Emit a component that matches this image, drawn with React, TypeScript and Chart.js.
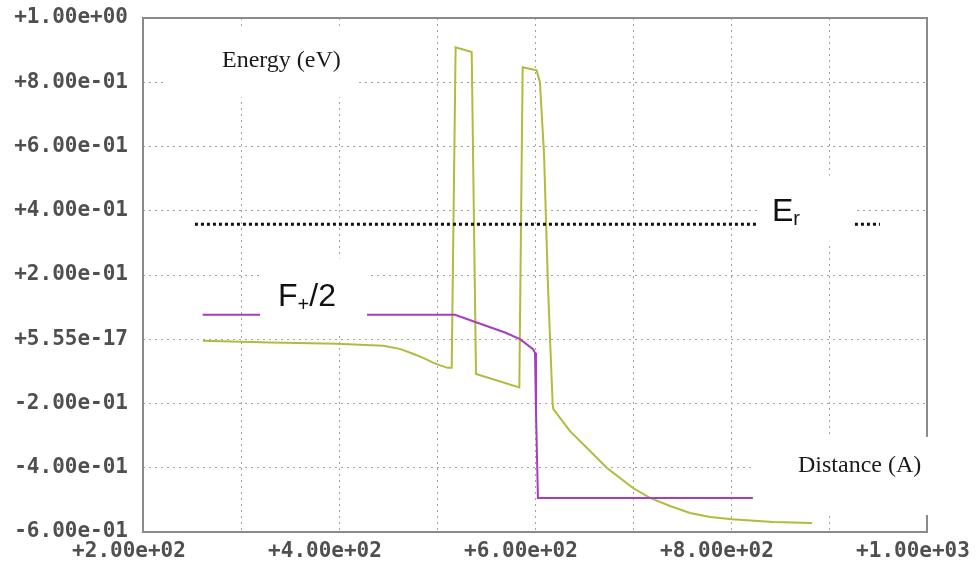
import React, { useEffect, useRef } from 'react';
import { Chart, registerables } from 'chart.js';

Chart.register(...registerables);

// Axis ticks
const xTickValues = [200, 300, 400, 500, 600, 700, 800, 900, 1000];
const xTickLabels = ['+2.00e+02', '', '+4.00e+02', '', '+6.00e+02', '', '+8.00e+02', '', '+1.00e+03'];
const yTickValues = [-0.6, -0.4, -0.2, 0, 0.2, 0.4, 0.6, 0.8, 1.0];
const yTickLabels = ['-6.00e-01', '-4.00e-01', '-2.00e-01', '+5.55e-17', '+2.00e-01', '+4.00e-01', '+6.00e-01', '+8.00e-01', '+1.00e+00'];

// Energy band (yellow)
const energyX = [261, 330, 398, 445, 462, 475.5, 486, 496, 504, 511, 515, 519, 535.4, 539.8, 584, 587.4, 601.7, 605, 609.2, 613.3, 618, 618.6, 635.7, 656.1, 673.5, 700, 717.3, 737.8, 758.2, 778.6, 801, 842.9, 882.7];
const energyY = [-0.005, -0.01, -0.014, -0.02, -0.03, -0.045, -0.058, -0.073, -0.082, -0.089, -0.089, 0.909, 0.894, -0.108, -0.15, 0.847, 0.837, 0.8, 0.578, 0.16, -0.2, -0.217, -0.286, -0.348, -0.401, -0.463, -0.494, -0.519, -0.541, -0.553, -0.56, -0.569, -0.572];

// F+/2 (purple)
const fHalfX = [261, 518.4, 540.5, 569.4, 584.7, 598, 600, 601, 603, 822.4];
const fHalfY = [0.076, 0.076, 0.052, 0.021, 0.0005, -0.031, -0.042, -0.223, -0.494, -0.494];

// Er (black dotted)
const erX = [253, 952];
const erY = [0.358, 0.358];

const toPts = (xs: number[], ys: number[]) => xs.map((x, i) => ({ x, y: ys[i] }));

type Part = { text: string; size: number; dy: number };
type Note = {
  box: [number, number, number, number]; // x0, x1, yTop, yBottom in data units
  x: number;
  y: number; // baseline in data units
  family: string;
  color: string;
  parts: Part[];
};

const SANS = '"Liberation Sans", Arial, sans-serif';
const SERIF = '"Liberation Serif", "Times New Roman", serif';

const notes: Note[] = [
  {
    box: [222.4, 416.3, 0.962, 0.753],
    x: 280.6, y: 0.849, family: SERIF, color: '#1a1a1a',
    parts: [{ text: 'Energy (eV)', size: 24, dy: 0 }],
  },
  {
    box: [826.5, 925.5, 0.51, 0.304],
    x: 841.8, y: 0.369, family: SANS, color: '#111',
    parts: [{ text: 'E', size: 32, dy: 0 }, { text: 'r', size: 20, dy: 4 }],
  },
  {
    box: [319.4, 428.6, 0.251, 0.011],
    x: 337.8, y: 0.104, family: SANS, color: '#111',
    parts: [{ text: 'F', size: 32, dy: 0 }, { text: '+', size: 20, dy: 5 }, { text: '/2', size: 32, dy: 0 }],
  },
  {
    box: [822.4, 1013, -0.304, -0.547],
    x: 868.4, y: -0.413, family: SERIF, color: '#1a1a1a',
    parts: [{ text: 'Distance (A)', size: 24, dy: 0 }],
  },
];

const framePlugin = {
  id: 'frame',
  beforeDatasetsDraw(chart: any) {
    const { ctx, chartArea: a } = chart;
    ctx.save();
    ctx.strokeStyle = '#8a8a8a';
    ctx.lineWidth = 2;
    ctx.setLineDash([]);
    ctx.strokeRect(a.left, a.top, a.right - a.left, a.bottom - a.top);
    ctx.restore();
  },
};

const notesPlugin = {
  id: 'notes',
  afterDraw(chart: any) {
    const { ctx } = chart;
    const xs = chart.scales.x;
    const ys = chart.scales.y;
    ctx.save();
    for (const n of notes) {
      const x0 = xs.getPixelForValue(n.box[0]);
      const x1 = xs.getPixelForValue(n.box[1]);
      const y0 = ys.getPixelForValue(n.box[2]);
      const y1 = ys.getPixelForValue(n.box[3]);
      ctx.fillStyle = '#ffffff';
      ctx.fillRect(x0, y0, x1 - x0, y1 - y0);
      let px = xs.getPixelForValue(n.x);
      const py = ys.getPixelForValue(n.y);
      ctx.fillStyle = n.color;
      ctx.textBaseline = 'alphabetic';
      ctx.textAlign = 'left';
      for (const p of n.parts) {
        ctx.font = `${p.size}px ${n.family}`;
        ctx.fillText(p.text, px, py + p.dy);
        px += ctx.measureText(p.text).width;
      }
    }
    ctx.restore();
  },
};

export default function App() {
  const ref = useRef<HTMLCanvasElement>(null);

  useEffect(() => {
    if (!ref.current) return;
    const tickFont = { family: '"DejaVu Sans Mono", monospace', size: 21, weight: 'bold' as const };
    const chart = new Chart(ref.current, {
      type: 'scatter',
      data: {
        datasets: [
          {
            label: 'Er',
            data: toPts(erX, erY),
            showLine: true,
            borderColor: '#111111',
            borderWidth: 3,
            borderDash: [3, 3],
            pointRadius: 0,
          },
          {
            label: 'F+/2',
            data: toPts(fHalfX, fHalfY),
            showLine: true,
            borderColor: '#a83cc0',
            borderWidth: 2,
            pointRadius: 0,
          },
          {
            label: 'Energy',
            data: toPts(energyX, energyY),
            showLine: true,
            borderColor: '#b3ba3c',
            borderWidth: 2,
            pointRadius: 0,
          },
        ],
      },
      options: {
        responsive: false,
        animation: false,
        devicePixelRatio: 1,
        layout: { padding: { left: 0, right: 49, top: 18, bottom: 0 } },
        plugins: { legend: { display: false }, tooltip: { enabled: false } },
        scales: {
          x: {
            type: 'linear',
            min: 200,
            max: 1000,
            afterBuildTicks: (s: any) => {
              s.ticks = xTickValues.map((v) => ({ value: v }));
            },
            afterFit: (s: any) => {
              s.height = 32;
              s.paddingLeft = 0;
              s.paddingRight = 0;
            },
            grid: { color: '#a2a2a2', lineWidth: 1, drawTicks: false },
            border: { display: false, dash: [2, 4] },
            ticks: {
              autoSkip: false,
              maxRotation: 0,
              padding: 7,
              labelOffset: -14,
              color: '#4f4f4f',
              font: tickFont,
              callback: (_v: any, i: number) => xTickLabels[i],
            },
          },
          y: {
            type: 'linear',
            min: -0.6,
            max: 1.0,
            afterBuildTicks: (s: any) => {
              s.ticks = yTickValues.map((v) => ({ value: v }));
            },
            afterFit: (s: any) => {
              s.width = 143;
              s.paddingTop = 0;
              s.paddingBottom = 0;
            },
            grid: { color: '#a2a2a2', lineWidth: 1, drawTicks: false },
            border: { display: false, dash: [2, 4] },
            ticks: {
              autoSkip: false,
              padding: 15,
              color: '#4f4f4f',
              font: tickFont,
              callback: (_v: any, i: number) => yTickLabels[i],
            },
          },
        },
      },
      plugins: [framePlugin, notesPlugin],
    });
    return () => chart.destroy();
  }, []);

  return (
    <div style={{ position: 'absolute', left: 0, top: 0, width: 976, height: 564, background: '#ffffff' }}>
      <canvas ref={ref} width={976} height={564} style={{ display: 'block', width: 976, height: 564 }} />
    </div>
  );
}
